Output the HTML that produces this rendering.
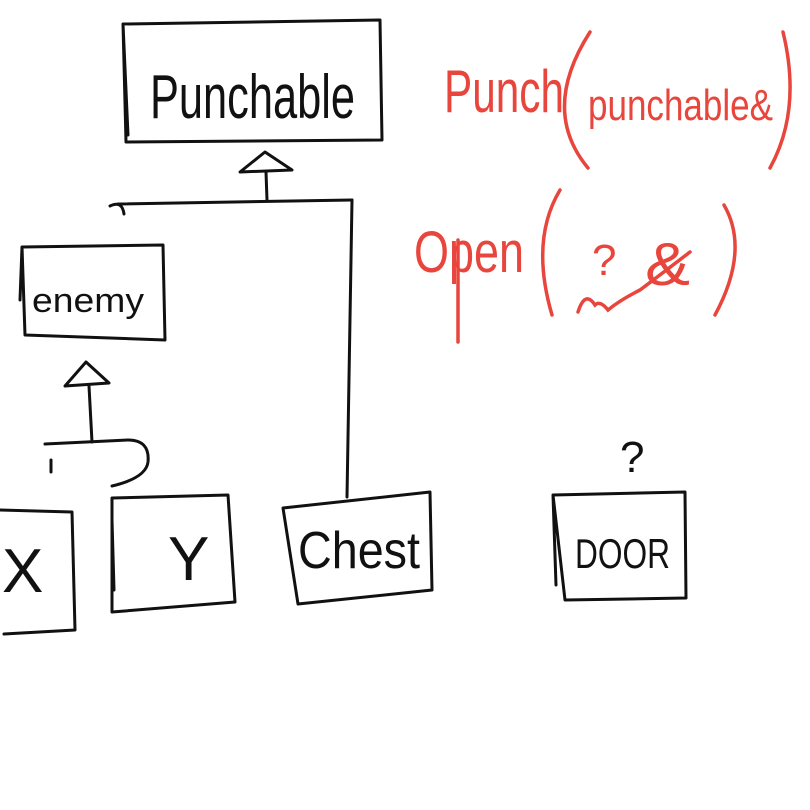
<!DOCTYPE html>
<html><head><meta charset="utf-8"><style>
html,body{margin:0;padding:0;background:#fff;}
svg{display:block}
text{font-family:"Liberation Sans",sans-serif;}
</style></head><body>
<svg width="810" height="810" viewBox="0 0 810 810" xmlns="http://www.w3.org/2000/svg">
<g fill="none" stroke="#111" stroke-width="3" stroke-linecap="round" stroke-linejoin="round">
<!-- Punchable box -->
<path d="M123,24 L380,20 L382,140 L126,142 Z M123,24 L128,135"/>
<!-- arrow -->
<path d="M240,172 L265,152 L292,170 Z"/>
<path d="M266,172 L267,200"/>
<path d="M118,204 L352,200"/>
<path d="M110,206 Q122,200 124,214"/>
<path d="M352,200 L347,497"/>
<!-- enemy box -->
<path d="M22,247 L163,245 L165,340 L25,335 Z M22,247 L20,300"/>
<!-- arrow 2 -->
<path d="M65,386 L86,362 L109,383 Z"/>
<path d="M89,386 L92,442"/>
<path d="M45,444 L128,440 Q150,440 148,462 Q146,478 112,486"/>
<path d="M51,460 L51,472"/>
<!-- X box -->
<path d="M0,510 L72,512 L75,630 L4,634"/>
<!-- Y box -->
<path d="M112,498 L228,495 L235,602 L112,612 Z M112,520 L114,590"/>
<!-- Chest box -->
<path d="M283,508 L430,492 L432,590 L298,604 Z"/>
<!-- Door box -->
<path d="M553,495 L685,492 L686,598 L565,600 Z M553,495 L556,585"/>
</g>
<g fill="#111">
<text x="150" y="118" font-size="62" textLength="205" lengthAdjust="spacingAndGlyphs">Punchable</text>
<text x="32" y="312" font-size="34" textLength="112" lengthAdjust="spacingAndGlyphs">enemy</text>
<text x="2" y="592" font-size="62" >X</text>
<text x="168" y="580" font-size="62">Y</text>
<text x="298" y="568" font-size="52" textLength="122" lengthAdjust="spacingAndGlyphs">Chest</text>
<text x="575" y="568" font-size="42" textLength="95" lengthAdjust="spacingAndGlyphs">DOOR</text>
<text x="620" y="472" font-size="44">?</text>
</g>
<g fill="none" stroke="#e8453c" stroke-width="3.5" stroke-linecap="round">
<path d="M590,32 Q540,110 588,168"/>
<path d="M783,32 Q802,110 770,168"/>
<path d="M560,190 Q530,240 552,315"/>
<path d="M724,205 Q750,250 715,315"/>
<path d="M458,240 L458,342"/>
<path d="M578,312 Q585,290 595,305 Q600,300 608,310 Q620,300 640,290 Q660,275 690,252"/>
</g>
<g fill="#e8453c">
<text x="444" y="112" font-size="60" textLength="120" lengthAdjust="spacingAndGlyphs">Punch</text>
<text x="588" y="120" font-size="44" textLength="185" lengthAdjust="spacingAndGlyphs">punchable&amp;</text>
<text x="414" y="272" font-size="58" textLength="110" lengthAdjust="spacingAndGlyphs">Open</text>
<text x="592" y="275" font-size="44">?</text>
<text x="645" y="285" font-size="60" textLength="45" lengthAdjust="spacingAndGlyphs">&amp;</text>
</g>
</svg>
</body></html>
